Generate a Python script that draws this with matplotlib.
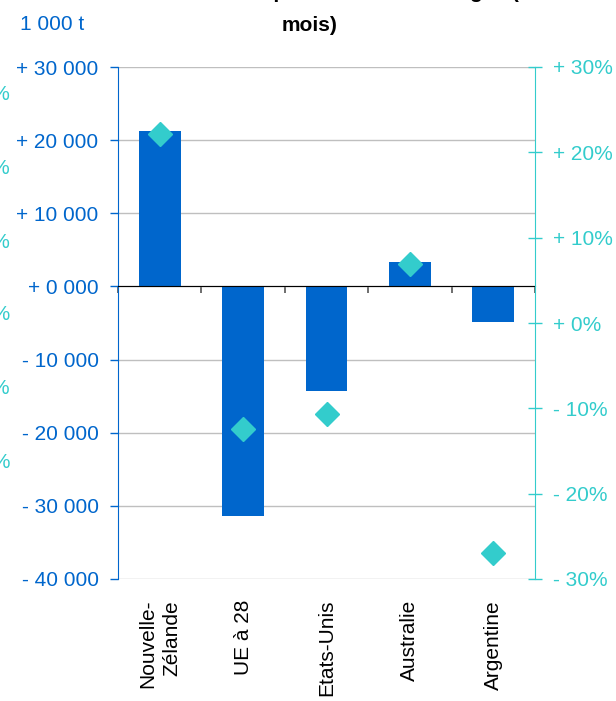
import numpy as np
import matplotlib
matplotlib.use("Agg")
import matplotlib.pyplot as plt
import matplotlib.transforms as mtransforms

plt.rcParams['font.family'] = ['Liberation Sans', 'DejaVu Sans']

countries = ["Nouvelle-\nZélande", "UE à 28", "Etats-Unis", "Australie", "Argentine"]
volume_kt = [21200, -31400, -14300, 3300, -4900]     # 1 000 t, left axis
variation_pct = [22.2, -12.4, -10.7, 6.9, -27.0]     # %, right axis
left_ticks = [-40000, -30000, -20000, -10000, 0, 10000, 20000, 30000]
right_ticks = [-30, -20, -10, 0, 10, 20, 30]

blue = "#0066CC"
teal = "#33CCCC"
fs = 15

fig = plt.figure(figsize=(6.16, 7.01), dpi=100)
ax = fig.add_axes([118/616, 1-579/701, (535-118)/616, (579-67)/701])
x = np.arange(len(countries))

ax.bar(x, volume_kt, width=0.5, color=blue, zorder=3)
ax.set_xlim(-0.5, len(countries) - 0.5)
ax.set_ylim(-40000, 30000)
ax.set_yticks(left_ticks)

def fmt_left(v):
    sign = "+ " if v >= 0 else "- "
    v = abs(int(v))
    return sign + "{} {:03d}".format(v // 1000, v % 1000)

ax.set_yticklabels([fmt_left(v) for v in left_ticks])
ax.tick_params(axis='y', colors=blue, labelcolor=blue, labelsize=fs, length=6, width=1, pad=8)
ax.yaxis.grid(True, color="#BFBFBF", linewidth=1, zorder=0)
ax.set_axisbelow(True)

ax.spines['top'].set_visible(False)
ax.spines['left'].set_color(blue)
ax.spines['right'].set_visible(False)
ax.spines['bottom'].set_position(('data', 0))
ax.spines['bottom'].set_color('black')
ax.spines['bottom'].set_zorder(4)
ax.set_xticks(np.arange(len(countries) + 1) - 0.5)
ax.set_xticklabels([])
ax.tick_params(axis='x', colors='#555555', length=5, width=1.2, direction='out')

trans = mtransforms.blended_transform_factory(ax.transData, fig.transFigure)
for xi, name in zip(x, countries):
    ax.text(xi, 1 - 600/701, name, transform=trans, rotation=90, ha='center', va='top',
            fontsize=fs, color='black', multialignment='right', linespacing=1.3)

ax2 = ax.twinx()
ax2.plot(x, variation_pct, linestyle='none', marker='D', markersize=12.5,
         color=teal, zorder=5)
ax2.set_ylim(-30, 30)
ax2.set_yticks(right_ticks)
ax2.set_yticklabels([("+ " if v >= 0 else "- ") + "{}%".format(abs(v)) for v in right_ticks])
ax2.tick_params(axis='y', colors=teal, labelcolor=teal, labelsize=fs,
                length=10, width=1, direction='inout', pad=8)
for s in ['top', 'bottom', 'left']:
    ax2.spines[s].set_visible(False)
ax2.spines['right'].set_color(teal)

fig.text(20/616, 1 - 25/701, "1 000 t", color=blue, fontsize=fs, va='center', ha='left')
fig.text(316/616, 1 + 2/701, "Variation des importations de fromages (",
         fontsize=fs, fontweight='bold', ha='center', va='baseline')
fig.text(310/616, 1 - 31/701, "mois)",
         fontsize=fs, fontweight='bold', ha='center', va='baseline')

# cut-off labels of the neighbouring chart
for ypx, lab in zip([95, 168, 242, 315, 388, 462], ["+ 30%", "+ 20%", "+ 10%", "+ 0%", "- 10%", "- 20%"]):
    fig.text(10/616, 1 - ypx/701, lab, color=teal, fontsize=fs, ha='right', va='center')

fig.savefig("out.png", dpi=100)
